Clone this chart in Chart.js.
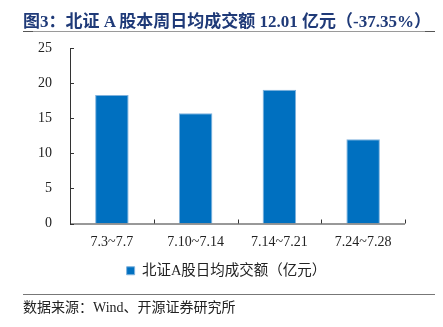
<!DOCTYPE html>
<html><head><meta charset="utf-8">
<script src="https://cdn.jsdelivr.net/npm/chart.js@4/dist/chart.umd.min.js"></script>
<style>
html,body{margin:0;padding:0;background:#fff;}
#wrap{position:relative;width:443px;height:327px;overflow:hidden;}
#c{position:absolute;left:0;top:0;}
.ttl{position:absolute;left:23px;top:7px;font:bold 17px "Liberation Serif","Noto Sans CJK SC",serif;color:#1F3A78;white-space:nowrap;}
.ln{position:absolute;left:23px;width:412px;height:0;border-top:1.5px solid #9a9a9a;}
.end{position:absolute;width:10px;height:0;border-top:1.5px solid #555;}
.src{position:absolute;left:23px;top:296px;font:14px "Liberation Serif","Noto Sans CJK SC",serif;color:#222;white-space:nowrap;}
</style></head><body>
<div id="wrap">
<canvas id="c" width="443" height="327"></canvas>
<div class="ttl">图3：北证 A 股本周日均成交额 12.01 亿元（-37.35%）</div>
<div class="ln" style="top:31px"></div>
<div class="end" style="top:31px;left:23px"></div>
<div class="end" style="top:31px;left:425px"></div>
<div class="ln" style="top:294px;border-top-color:#777"></div>
<div class="src">数据来源：Wind、开源证券研究所</div>
</div>
<script>
const categories = ["7.3~7.7", "7.10~7.14", "7.14~7.21", "7.24~7.28"];
const seriesName = "北证A股日均成交额（亿元）";
const values = [18.3, 15.7, 19.07, 12.01];
const yTicks = [0, 5, 10, 15, 20, 25];

const FONT = '"Liberation Serif","Noto Sans CJK SC",serif';

const innerTicks = {
  id: 'innerTicks',
  afterLayout(chart) {
    if (chart.legend) { chart.legend.left += 24; chart.legend.right += 24; }
  },
  afterDatasetsDraw(chart) {
    const ctx = chart.ctx, x = chart.scales.x, y = chart.scales.y;
    const a = chart.chartArea;
    ctx.save();
    ctx.strokeStyle = '#333';
    ctx.lineWidth = 1;
    ctx.beginPath();
    ctx.moveTo(a.left + 0.5, a.top);
    ctx.lineTo(a.left + 0.5, a.bottom + 0.5);
    ctx.lineTo(a.right, a.bottom + 0.5);
    y.ticks.forEach((t, i) => {
      const py = Math.round(y.getPixelForTick(i)) + 0.5;
      ctx.moveTo(a.left, py);
      ctx.lineTo(a.left + 4, py);
    });
    const n = categories.length;
    for (let i = 0; i <= n; i++) {
      const px = Math.round(x.getPixelForValue(i - 0.5)) + 0.5;
      ctx.moveTo(px, a.bottom);
      ctx.lineTo(px, a.bottom - 4);
    }
    ctx.stroke();
    ctx.restore();
  }
};

new Chart(document.getElementById('c'), {
  type: 'bar',
  data: {
    labels: categories,
    datasets: [{
      label: seriesName,
      data: values,
      backgroundColor: '#0070C0',
      borderColor: '#7FB2DD',
      borderWidth: 1,
      categoryPercentage: 1,
      barPercentage: 0.4
    }]
  },
  options: {
    responsive: false,
    animation: false,
    devicePixelRatio: 1,
    layout: { padding: { left: 0, right: 38, top: 48, bottom: 39 } },
    plugins: {
      legend: {
        position: 'bottom',
        labels: {
          boxWidth: 8, boxHeight: 8, padding: 10,
          color: '#222',
          font: { family: FONT, size: 14.5 }
        }
      },
      tooltip: { enabled: false }
    },
    scales: {
      x: {
        grid: { display: false, drawTicks: false },
        border: { display: false },
        ticks: { color: '#222', font: { family: FONT, size: 14 }, padding: 10 },
        afterFit(s) { s.height = 30; }
      },
      y: {
        min: 0, max: 25,
        afterBuildTicks(s) { s.ticks = yTicks.map(v => ({ value: v })); },
        grid: { display: false, drawTicks: false },
        border: { display: false },
        ticks: { color: '#222', font: { family: FONT, size: 14 }, padding: 18 },
        afterFit(s) { s.width = 70; }
      }
    }
  },
  plugins: [innerTicks]
});
</script>
</body></html>
